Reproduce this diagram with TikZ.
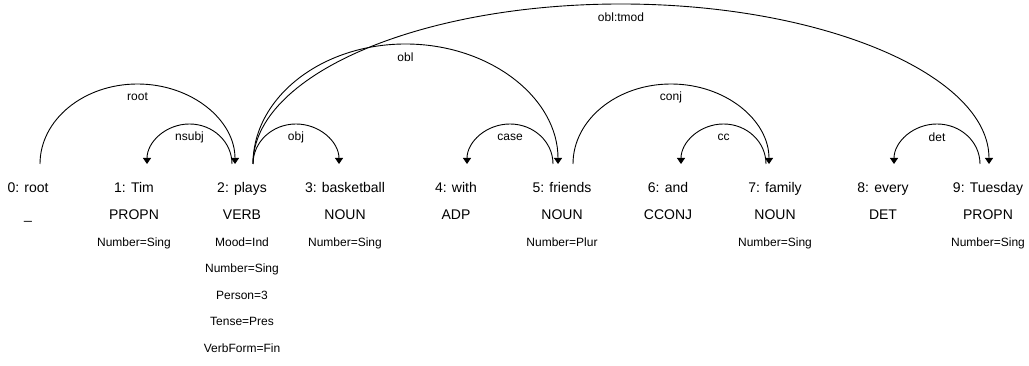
\documentclass[tikz,border=0pt]{standalone}
\usepackage{fontspec}
\setmainfont{Liberation Sans}
\usetikzlibrary{arrows.meta,calc}
\tikzset{
  word/.style={anchor=base, inner sep=0pt, font=\fontsize{14}{16}\selectfont},
  feat/.style={anchor=base, inner sep=0pt, font=\fontsize{12}{14}\selectfont},
  dep/.style={line width=0.9pt, -{Triangle[width=8pt,length=6pt]}},
  lbl/.style={inner sep=0pt, font=\fontsize{12}{14}\selectfont},
}
% #1 from, #2 to, #3 height, #4 label, #5 label node name
\newcommand\deparc[5]{%
  \draw[dep] let \p1=(#1), \p2=(#2), \n1={(\x2-\x1)/2} in
    (\p1) .. controls +(0,{0.5523*#3}) and +({-0.5523*\n1},0)
    .. ({\x1+\n1},{\y1+#3}) node[lbl, yshift=-13pt] (#5) {#4}
    .. controls +({0.5523*\n1},0) and +(0,{0.5523*#3}) .. (\p2);
}
\begin{document}
\begin{tikzpicture}[x=1pt,y=1pt]
\useasboundingbox (0,0) rectangle (1029,366);
% words
\node[word] (w0) at (28,173) {0: root};
\node[word] (t0) at (28,146) {\_};
\node[word] (w1) at (134,173) {1: Tim};
\node[word] (t1) at (134,146) {PROPN};
\node[feat] (f1a) at (134,119.5) {Number=Sing};
\node[word] (w2) at (242,173) {2: plays};
\node[word] (t2) at (242,146) {VERB};
\node[feat] (f2a) at (242,119.5) {Mood=Ind};
\node[feat] (f2b) at (242,93) {Number=Sing};
\node[feat] (f2c) at (242,66.5) {Person=3};
\node[feat] (f2d) at (242,40) {Tense=Pres};
\node[feat] (f2e) at (242,13.5) {VerbForm=Fin};
\node[word] (w3) at (345,173) {3: basketball};
\node[word] (t3) at (345,146) {NOUN};
\node[feat] (f3a) at (345,119.5) {Number=Sing};
\node[word] (w4) at (456,173) {4: with};
\node[word] (t4) at (456,146) {ADP};
\node[word] (w5) at (562,173) {5: friends};
\node[word] (t5) at (562,146) {NOUN};
\node[feat] (f5a) at (562,119.5) {Number=Plur};
\node[word] (w6) at (668,173) {6: and};
\node[word] (t6) at (668,146) {CCONJ};
\node[word] (w7) at (775,173) {7: family};
\node[word] (t7) at (775,146) {NOUN};
\node[feat] (f7a) at (775,119.5) {Number=Sing};
\node[word] (w8) at (883,173) {8: every};
\node[word] (t8) at (883,146) {DET};
\node[word] (w9) at (988,173) {9: Tuesday};
\node[word] (t9) at (988,146) {PROPN};
\node[feat] (f9a) at (988,119.5) {Number=Sing};
% arc anchor points
\coordinate (a0r) at (40,202);
\coordinate (a1in) at (147,202);
\coordinate (a2in) at (235,202);
\coordinate (a2l) at (232,202);
\coordinate (a2r) at (253,202);
\coordinate (a3in) at (339,202);
\coordinate (a4in) at (467,202);
\coordinate (a5l) at (553,202);
\coordinate (a5in) at (558,202);
\coordinate (a5r) at (573,202);
\coordinate (a6in) at (681,202);
\coordinate (a7in) at (769,202);
\coordinate (a7l) at (766,202);
\coordinate (a8in) at (894,202);
\coordinate (a9l) at (980,202);
\coordinate (a9in) at (989,202);
% arcs
\deparc{a0r}{a2in}{80}{root}{lroot}
\deparc{a2l}{a1in}{40}{nsubj}{lnsubj}
\deparc{a2r}{a3in}{40}{obj}{lobj}
\deparc{a2r}{a5in}{120}{obl}{lobl}
\deparc{a2r}{a9in}{160}{obl:tmod}{ltmod}
\deparc{a5l}{a4in}{40}{case}{lcase}
\deparc{a5r}{a7in}{80}{conj}{lconj}
\deparc{a7l}{a6in}{40}{cc}{lcc}
\deparc{a9l}{a8in}{40}{det}{ldet}
\end{tikzpicture}
\end{document}
